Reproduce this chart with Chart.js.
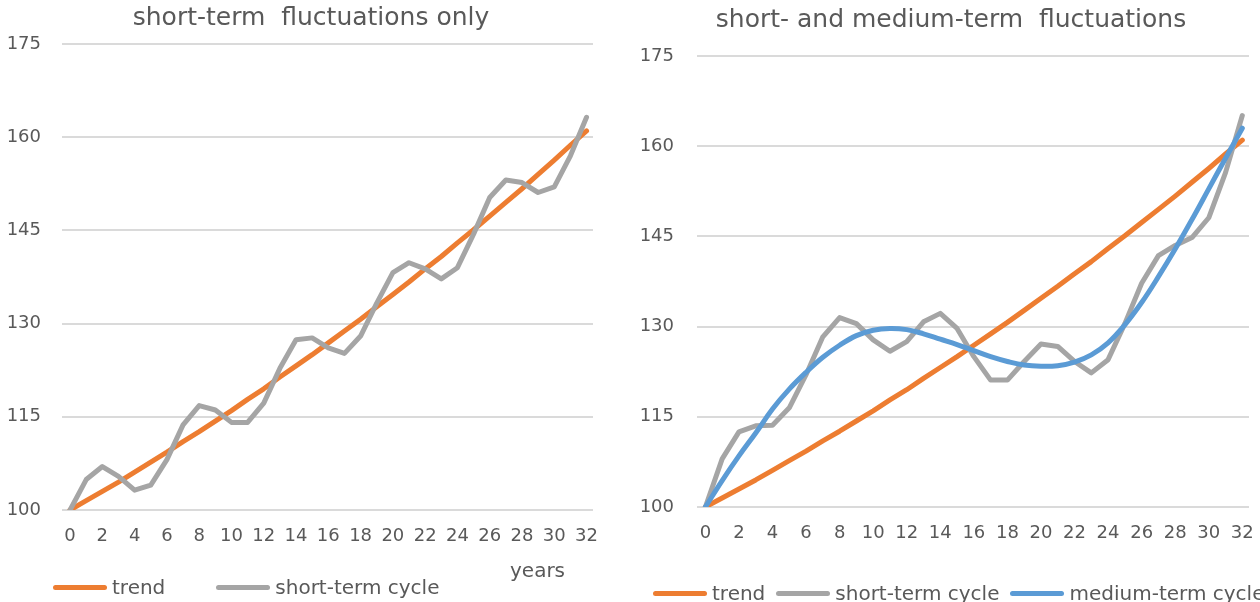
<!DOCTYPE html>
<html>
<head>
<meta charset="utf-8">
<script src="https://cdn.jsdelivr.net/npm/chart.js@4.4.1/dist/chart.umd.min.js"></script>
<style>
    body {
        margin: 0;
        width: 1260px;
        height: 602px;
        overflow: hidden;
        position: relative;
        background: #fff;
        font-family: 'DejaVu Sans', sans-serif;
        color: #595959;
    }
    .panel { position: absolute; top: 0; height: 602px; }
    .panel canvas { position: absolute; left: 0; top: 0; }
    .legend {
        position: absolute;
        display: flex;
        align-items: center;
        white-space: nowrap;
        font-size: 20px;
        line-height: 22px;
    }
    .legend .item { display: flex; align-items: center; }
    .legend .swatch {
        display: inline-block;
        width: 54px;
        height: 5px;
        border-radius: 3px;
        margin-right: 5px;
    }
    .note { position: absolute; font-size: 20px; line-height: 24px; }
</style>
</head>
<body>
<div class="panel" style="left:0; width:620px;">
    <canvas id="chartLeft" width="620" height="602"></canvas>
    <div class="legend" id="legendLeft" style="left:53px; top:576px;"></div>
    <div class="note" style="left:510px; top:558px;">years</div>
</div>
<div class="panel" style="left:620px; width:650px;">
    <canvas id="chartRight" width="650" height="602"></canvas>
    <div class="legend" id="legendRight" style="left:33px; top:582px;"></div>
</div>
<script>
// years on the x axis and the labelled ticks of both axes
const years = [0, 1, 2, 3, 4, 5, 6, 7, 8, 9, 10, 11, 12, 13, 14, 15, 16,
    17, 18, 19, 20, 21, 22, 23, 24, 25, 26, 27, 28, 29, 30, 31, 32];
const yearTicks = [0, 2, 4, 6, 8, 10, 12, 14, 16, 18, 20, 22, 24, 26, 28, 30, 32];
const levelTicks = [100, 115, 130, 145, 160, 175];

// underlying growth path (same in both panels)
const trend = [100, 101.5, 103.0, 104.5, 106.1, 107.7, 109.3, 111.0, 112.6, 114.3,
    116.0, 117.8, 119.5, 121.4, 123.2, 125.0, 126.9, 128.8, 130.7, 132.7,
    134.7, 136.7, 138.8, 140.8, 143.0, 145.1, 147.3, 149.5, 151.7, 154.0,
    156.3, 158.7, 161.0];

// left panel: trend plus short cycles only
const shortOnly = [100, 104.9, 107.0, 105.4, 103.2, 104.0, 108.1, 113.7, 116.8, 116.1,
    114.1, 114.1, 117.2, 122.8, 127.4, 127.7, 126.1, 125.2, 128.0, 133.3,
    138.2, 139.8, 138.8, 137.2, 139.0, 144.4, 150.3, 153.1, 152.7, 151.1,
    152.0, 157.0, 163.2];

// right panel: short cycles riding on the medium cycle
const shortOnMedium = [100, 108.0, 112.5, 113.5, 113.6, 116.5, 122.0, 128.3, 131.5, 130.5,
    127.8, 125.9, 127.5, 130.8, 132.2, 129.7, 125.0, 121.1, 121.1, 124.2,
    127.1, 126.7, 124.2, 122.3, 124.5, 130.5, 137.2, 141.8, 143.5, 144.8,
    148.1, 155.6, 165.1];
const medium = [100, 104.4, 108.5, 112.3, 116.3, 119.6, 122.4, 124.9, 126.9, 128.5,
    129.4, 129.7, 129.5, 128.8, 127.9, 127.0, 126.0, 125.0, 124.2, 123.6,
    123.4, 123.5, 124.1, 125.3, 127.3, 130.3, 134.0, 138.3, 142.9, 147.8,
    152.9, 158.0, 163.0];

const ORANGE = '#ed7d31';
const GREY = '#a5a5a5';
const BLUE = '#5b9bd5';

Chart.defaults.font.family = "'DejaVu Sans', sans-serif";
Chart.defaults.color = '#595959';

function pts(values) {
    return values.map((v, i) => ({ x: years[i], y: v }));
}

function series(label, values, color, order, tension) {
    return {
        label: label,
        data: pts(values),
        borderColor: color,
        backgroundColor: color,
        borderWidth: 5,
        borderCapStyle: 'round',
        borderJoinStyle: 'round',
        pointRadius: 0,
        tension: tension || 0,
        fill: false,
        order: order
    };
}

// legend drawn as html below the canvas so it can run past the plot width
const htmlLegend = {
    id: 'htmlLegend',
    afterUpdate(chart, args, opts) {
        const box = document.getElementById(opts.containerID);
        box.innerHTML = '';
        const sets = chart.data.datasets;
        sets.forEach((ds, i) => {
            const item = document.createElement('div');
            item.className = 'item';
            if (i < sets.length - 1) item.style.marginRight = opts.gap + 'px';
            const swatch = document.createElement('span');
            swatch.className = 'swatch';
            swatch.style.background = ds.borderColor;
            const text = document.createElement('span');
            text.textContent = ds.label;
            item.appendChild(swatch);
            item.appendChild(text);
            box.appendChild(item);
        });
    }
};

function makeChart(canvasId, legendId, title, datasets, box) {
    const ctx = document.getElementById(canvasId).getContext('2d');
    return new Chart(ctx, {
        type: 'line',
        data: { datasets: datasets },
        plugins: [htmlLegend],
        options: {
            responsive: false,
            animation: false,
            layout: {
                padding: { left: box.padLeft, right: box.padRight, top: 0, bottom: box.padBottom }
            },
            plugins: {
                legend: { display: false },
                tooltip: { enabled: false },
                htmlLegend: { containerID: legendId, gap: box.gap },
                title: {
                    display: true,
                    text: title,
                    color: '#595959',
                    font: { size: 25, weight: 'normal' },
                    padding: { top: box.titleTop, bottom: box.titleBottom }
                }
            },
            scales: {
                x: {
                    type: 'linear',
                    min: -0.5,
                    max: 32.4,
                    afterBuildTicks: s => { s.ticks = yearTicks.map(v => ({ value: v })); },
                    afterFit: s => { s.height = 40; },
                    grid: { display: false, drawTicks: false },
                    border: { display: false },
                    ticks: { padding: 16, autoSkip: false, maxRotation: 0, font: { size: 18 } }
                },
                y: {
                    min: 100,
                    max: 175,
                    afterBuildTicks: s => { s.ticks = levelTicks.map(v => ({ value: v })); },
                    afterFit: s => { s.width = box.yWidth; },
                    grid: { color: '#dadada', lineWidth: 2, drawTicks: false },
                    border: { display: false },
                    ticks: { padding: box.yPad, font: { size: 18 } }
                },
                // empty strip on the right so the plot stops short of the title box
                gutter: {
                    position: 'right',
                    grid: { display: false, drawTicks: false },
                    border: { display: false },
                    ticks: { display: false },
                    afterFit: s => { s.width = box.gutter; }
                }
            }
        }
    });
}

makeChart('chartLeft', 'legendLeft', 'short-term  fluctuations only', [
    series('trend', trend, ORANGE, 3),
    series('short-term cycle', shortOnly, GREY, 2)
], { padLeft: 4, padRight: 2, padBottom: 52, yWidth: 58, yPad: 21, gutter: 25,
     titleTop: 3, titleBottom: 11, gap: 51 });

makeChart('chartRight', 'legendRight', 'short- and medium-term  fluctuations', [
    series('trend', trend, ORANGE, 3),
    series('short-term cycle', shortOnMedium, GREY, 2),
    series('medium-term cycle', medium, BLUE, 1, 0.4)
], { padLeft: 18, padRight: 6, padBottom: 55, yWidth: 59, yPad: 23, gutter: 14,
     titleTop: 5, titleBottom: 21, gap: 11 });
</script>
</body>
</html>
